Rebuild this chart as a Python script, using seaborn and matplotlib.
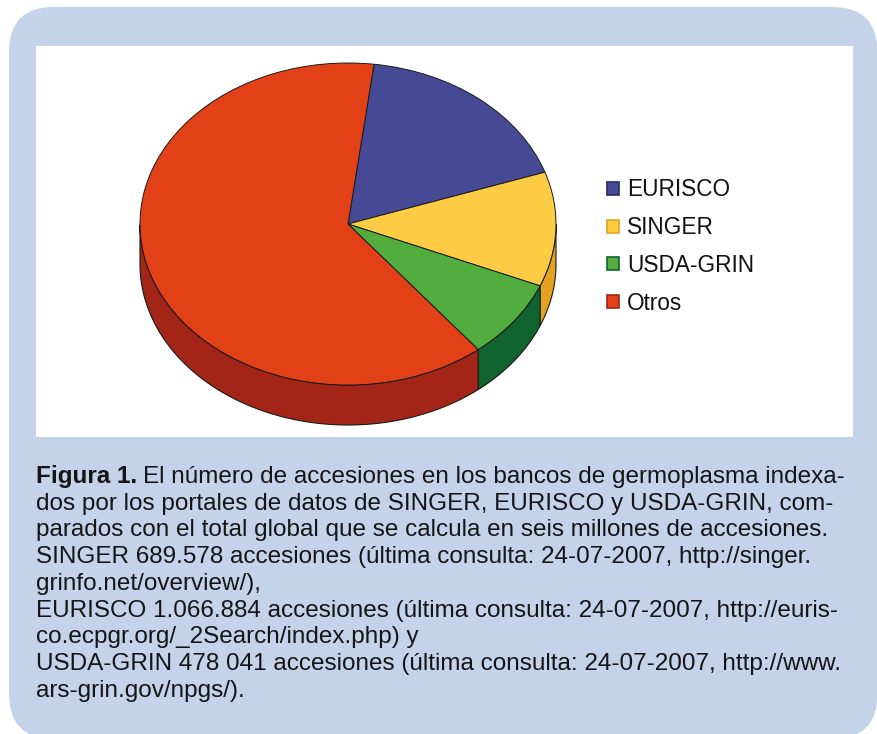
import numpy as np
import seaborn as sns
import matplotlib.pyplot as plt
from matplotlib.patches import FancyBboxPatch, Patch, Polygon

# accessions per portal, Otros is what is left of the six million
labels = ['EURISCO', 'SINGER', 'USDA-GRIN', 'Otros']
values = [1066884, 689578, 478041, 3765497]
top_colors = ['#464A94', '#FDCC44', '#52AD3E', '#E24117']
side_colors = ['#262B6A', '#E2A21F', '#10632F', '#A22517']

caption_lines = [
    'El número de accesiones en los bancos de germoplasma indexa-',
    'dos por los portales de datos de SINGER, EURISCO y USDA-GRIN, com-',
    'parados con el total global que se calcula en seis millones de accesiones.',
    'SINGER 689.578 accesiones (última consulta: 24-07-2007, http://singer.',
    'grinfo.net/overview/),',
    'EURISCO 1.066.884 accesiones (última consulta: 24-07-2007, http://euris-',
    'co.ecpgr.org/_2Search/index.php) y',
    'USDA-GRIN 478 041 accesiones (última consulta: 24-07-2007, http://www.',
    'ars-grin.gov/npgs/).',
]

sns.set_theme(style='white')
plt.rcParams['font.family'] = ['Liberation Sans', 'DejaVu Sans']

W, H = 878, 734
fig = plt.figure(figsize=(W / 100, H / 100), dpi=100, facecolor='white')

# background panel, in pixel coordinates
bg = fig.add_axes([0, 0, 1, 1])
bg.set_xlim(0, W)
bg.set_ylim(H, 0)
bg.axis('off')
bg.add_patch(FancyBboxPatch((9, 7), 868.5, 732, boxstyle='round,pad=0,rounding_size=45',
                            fc='#C5D3EA', ec='none', lw=0))

# white chart area
left, right, top, bottom = 36, 853, 46, 437
ax = fig.add_axes([left / W, 1 - bottom / H, (right - left) / W, (bottom - top) / H])
wedges, _ = ax.pie(values, colors=top_colors, startangle=82.8, counterclock=False,
                   wedgeprops={'edgecolor': '#1a1a1a', 'linewidth': 0.7, 'zorder': 3})

# squash the pie and give it a rim
cx, cy, rx, ry, depth = 348, 224, 208, 161, 40
ax.set_aspect('auto')
ax.set_xlim((left - cx) / rx, (right - cx) / rx)
ax.set_ylim((cy - bottom) / ry, (cy - top) / ry)
ax.set_frame_on(True)
ax.patch.set_facecolor('white')
sns.despine(ax=ax, left=True, bottom=True, right=True, top=True)

drop = depth / ry
for wedge, color in zip(wedges, side_colors):
    t = np.radians(np.linspace(wedge.theta1, wedge.theta2, 300))
    t = t[np.sin(t) <= 0]
    if len(t) == 0:
        continue
    upper = np.column_stack([np.cos(t), np.sin(t)])
    lower = upper[::-1] - [0, drop]
    ax.add_patch(Polygon(np.vstack([upper, lower]), closed=True, fc=color,
                         ec='#1a1a1a', lw=0.8, zorder=2))

handles = [Patch(fc=c, ec=e, lw=1.2) for c, e in zip(top_colors, side_colors)]
fig.legend(handles, labels, loc='center left', bbox_to_anchor=(596 / W, 1 - 246.5 / H),
           frameon=False, fontsize=16.3, handlelength=0.5, handleheight=0.5,
           handletextpad=0.36, labelspacing=0.65, labelcolor='#111111',
           borderpad=0, borderaxespad=0.5)

# caption
ink = '#151515'
line_y = [483, 509.7, 536.4, 563.1, 589.8, 616.5, 643.2, 669.9, 696.6]
caption_size = 17.5
bold = bg.text(36, line_y[0], 'Figura 1.', fontsize=caption_size, fontweight='bold',
               color=ink, va='baseline', ha='left')
fig.canvas.draw()
bold_end = bg.transData.inverted().transform(
    bold.get_window_extent().get_points())[1, 0]
bg.text(bold_end + 6, line_y[0], caption_lines[0], fontsize=caption_size, color=ink,
        va='baseline', ha='left')
for y, line in zip(line_y[1:], caption_lines[1:]):
    bg.text(36, y, line, fontsize=caption_size, color=ink, va='baseline', ha='left')

fig.savefig('out.png', dpi=100)
